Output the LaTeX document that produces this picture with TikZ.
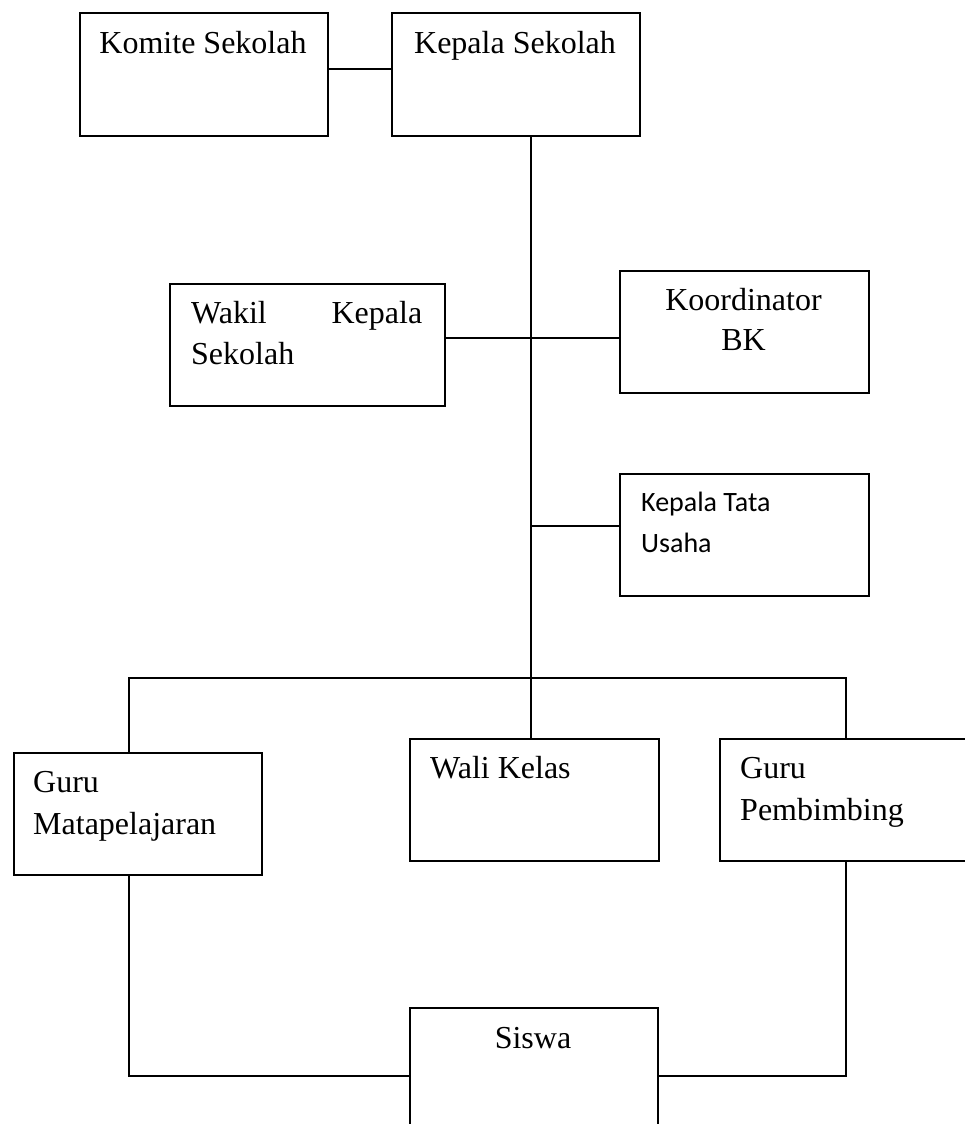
\documentclass[tikz,border=0pt]{standalone}
\usepackage{fontspec}
\setmainfont{Liberation Serif}
\newfontfamily\calfont{Carlito}
\begin{document}
\begin{tikzpicture}[x=1pt,y=-1pt,
  box/.style={draw, rectangle, line width=1.6pt, inner sep=0pt, anchor=north west},
  conn/.style={line width=1.3pt},
  txt/.style={inner sep=0pt, font=\fontsize{32}{41}\selectfont},
  sanstxt/.style={inner sep=0pt, font=\calfont\fontsize{28}{41}\selectfont}]
\useasboundingbox (0,0) rectangle (964,1124);
% boxes
\node[box, minimum width=248pt, minimum height=123pt] (komite) at (79,12) {};
\node[box, minimum width=248pt, minimum height=123pt] (kepala) at (391,12) {};
\node[box, minimum width=275pt, minimum height=122pt] (wakil) at (169,283) {};
\node[box, minimum width=249pt, minimum height=122pt] (koord) at (619,270) {};
\node[box, minimum width=249pt, minimum height=122pt] (ktu) at (619,473) {};
\node[box, minimum width=248pt, minimum height=122pt] (gm) at (13,752) {};
\node[box, minimum width=249pt, minimum height=122pt] (wali) at (409,738) {};
\node[box, minimum width=250pt, minimum height=122pt] (gp) at (719,738) {};
\node[box, minimum width=248pt, minimum height=125pt] (siswa) at (409,1007) {};
% texts
\node[txt, anchor=base] (komite-t) at (203,53) {Komite Sekolah};
\node[txt, anchor=base] (kepala-t) at (515,53) {Kepala Sekolah};
\node[txt, anchor=base west] (wakil-t) at (191,323) {\parbox[t]{231pt}{\baselineskip=41pt Wakil\hfill Kepala\\Sekolah}};
\node[txt, anchor=base] (koord-t) at (743.5,310) {\parbox[t]{249pt}{\centering\baselineskip=40pt Koordinator\\BK}};
\node[sanstxt, anchor=base west] (ktu-t) at (641,511) {\parbox[t]{220pt}{\baselineskip=41pt Kepala Tata\\Usaha}};
\node[txt, anchor=base west] (gm-t) at (33,792) {\parbox[t]{225pt}{\baselineskip=42pt Guru\\Matapelajaran}};
\node[txt, anchor=base west] (wali-t) at (430,778) {Wali Kelas};
\node[txt, anchor=base west] (gp-t) at (740,778) {\parbox[t]{222pt}{\baselineskip=42pt Guru\\Pembimbing}};
\node[txt, anchor=base] (siswa-t) at (533,1048) {Siswa};
% helper coordinates
\coordinate (link) at (0,69);
\coordinate (spine) at (531,0);
\coordinate (r1) at (0,338);
\coordinate (r2) at (0,526);
\coordinate (lb) at (129,678);
\coordinate (rb) at (846,678);
\coordinate (bot) at (0,1076);
% connectors
\draw[conn] (komite.east |- link) -- (kepala.west |- link);
\draw[conn] (spine |- kepala.south) -- (spine |- lb);
\draw[conn] (wakil.east |- r1) -- (koord.west |- r1);
\draw[conn] (spine |- r2) -- (ktu.west |- r2);
\draw[conn] (gm.north -| lb) -- (lb) -- (rb) -- (gp.north -| rb);
\draw[conn] (spine |- lb) -- (spine |- wali.north);
\draw[conn] (gm.south -| lb) -- (lb |- bot) -- (siswa.west |- bot);
\draw[conn] (gp.south -| rb) -- (rb |- bot) -- (siswa.east |- bot);
\end{tikzpicture}
\end{document}
